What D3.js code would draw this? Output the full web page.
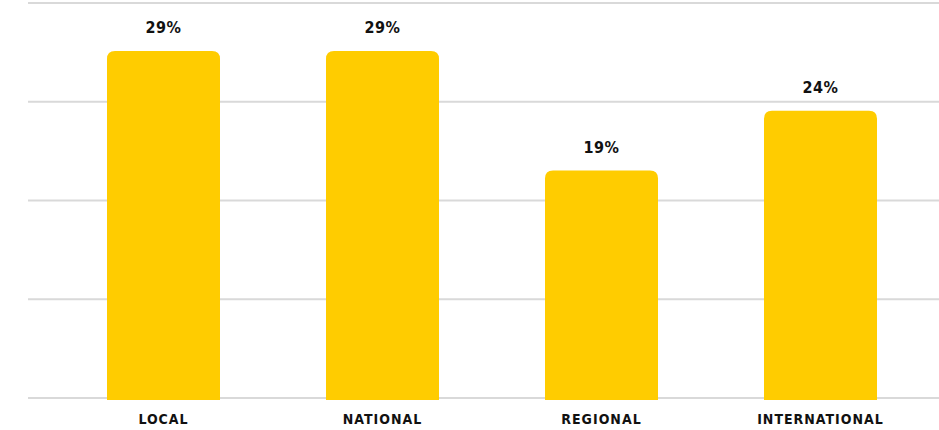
<!DOCTYPE html>
<html>
<head>
<meta charset="utf-8">
<style>
  body { margin: 0; background: #fff; }
  text { font-family: "DejaVu Sans Condensed", "DejaVu Sans", sans-serif; font-weight: bold; }
</style>
</head>
<body>
<svg width="939" height="430"></svg>
<script src="https://d3js.org/d3.v7.min.js"></script>
<script>

var categories = ["Local", "National", "Regional", "International"];
var values = [29, 29, 19, 24];
var gridTicks = [0, 8.25, 16.5, 24.75, 33];

var svg = d3.select("svg"),
    width = +svg.attr("width"),
    height = +svg.attr("height");

var x = d3.scaleBand()
    .domain(categories)
    .range([54, 930])
    .paddingInner(0.484)
    .paddingOuter(0.242);

var y = d3.scaleLinear()
    .domain([0, 33])
    .range([398, 3]);

// grid lines
svg.append("g")
    .selectAll("line")
    .data(gridTicks)
    .enter().append("line")
      .attr("x1", 28)
      .attr("x2", width)
      .attr("y1", function(d) { return y(d); })
      .attr("y2", function(d) { return y(d); })
      .attr("stroke", "#d9d9d9")
      .attr("stroke-width", 2);

// bars with rounded top corners
var r = 8;
svg.append("g")
    .selectAll("path")
    .data(values)
    .enter().append("path")
      .attr("fill", "#ffcc00")
      .attr("d", function(d, i) {
        var x0 = x(categories[i]), w = x.bandwidth(),
            y0 = y(d), yb = y(0) + 2;
        return "M" + x0 + "," + yb +
               "V" + (y0 + r) +
               "Q" + x0 + "," + y0 + " " + (x0 + r) + "," + y0 +
               "H" + (x0 + w - r) +
               "Q" + (x0 + w) + "," + y0 + " " + (x0 + w) + "," + (y0 + r) +
               "V" + yb + "Z";
      });

// value labels
svg.append("g")
    .selectAll("text")
    .data(values)
    .enter().append("text")
      .attr("x", function(d, i) { return x(categories[i]) + x.bandwidth() / 2; })
      .attr("y", function(d) { return y(d) - 18; })
      .attr("text-anchor", "middle")
      .attr("font-size", 16)
      .attr("letter-spacing", 0.5)
      .attr("fill", "#111")
      .text(function(d) { return d + "%"; });

// category labels
svg.append("g")
    .selectAll("text")
    .data(categories)
    .enter().append("text")
      .attr("x", function(d) { return x(d) + x.bandwidth() / 2; })
      .attr("y", 424)
      .attr("text-anchor", "middle")
      .attr("font-size", 14)
      .attr("letter-spacing", 1)
      .style("text-transform", "uppercase")
      .attr("fill", "#111")
      .text(function(d) { return d; });

</script>
</body>
</html>
